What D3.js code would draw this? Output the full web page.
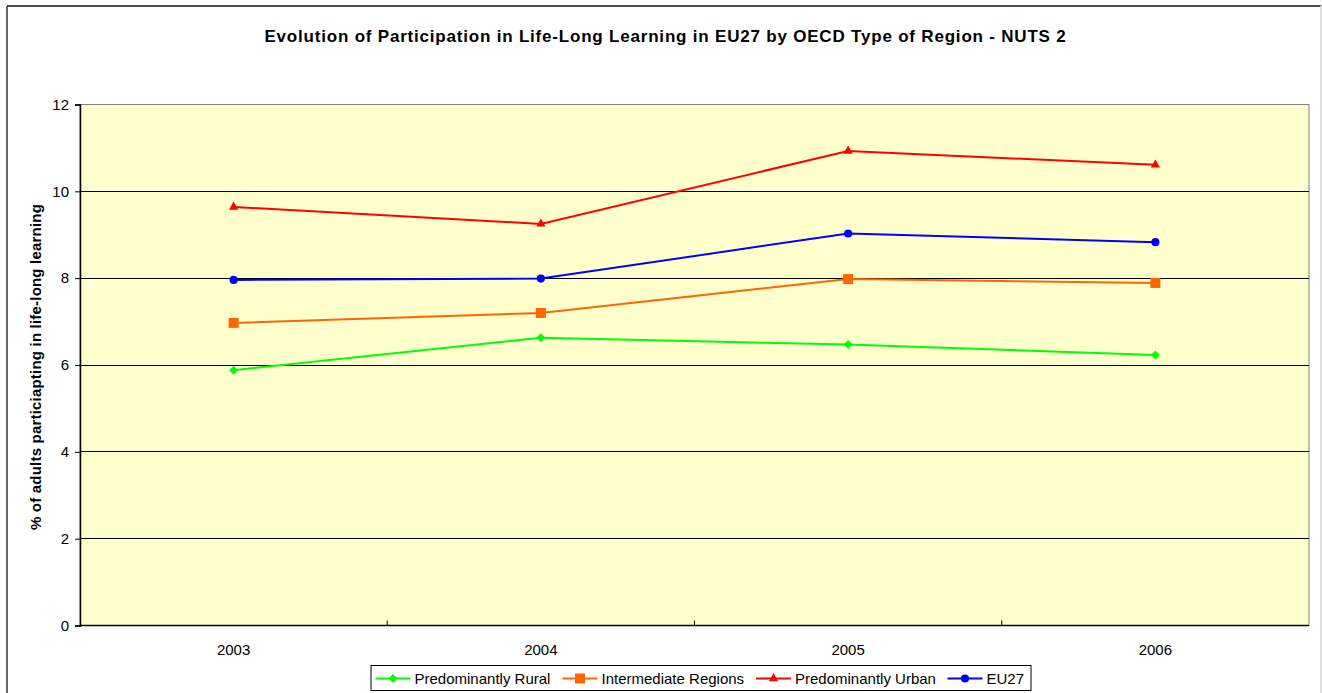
<!DOCTYPE html>
<html>
<head>
<meta charset="utf-8">
<script src="https://cdn.jsdelivr.net/npm/d3@7"></script>
<style>
  body { margin: 0; background: #fff; }
  svg { display: block; font-family: "Liberation Sans", Arial, sans-serif; }
</style>
</head>
<body>
<svg id="chart"></svg>
<script>
// data
const years = ['2003', '2004', '2005', '2006'];
const rural = [5.88, 6.63, 6.47, 6.23];
const intermediate = [6.97, 7.2, 7.98, 7.89];
const urban = [9.64, 9.25, 10.93, 10.61];
const eu27 = [7.96, 7.99, 9.03, 8.83];
const yTicks = [0, 2, 4, 6, 8, 10, 12];

const series = [
  {name: 'Predominantly Rural', values: rural, color: '#00ff00', symbol: 'diamond'},
  {name: 'Intermediate Regions', values: intermediate, color: '#ff6600', symbol: 'square'},
  {name: 'Predominantly Urban', values: urban, color: '#ff0000', symbol: 'triangle'},
  {name: 'EU27', values: eu27, color: '#0000ff', symbol: 'circle'}
];

const W = 1322, H = 693;
const margin = {top: 104.5, right: 13, bottom: 67.5, left: 80};
const width = W - margin.left - margin.right;
const height = H - margin.top - margin.bottom;

const svg = d3.select('#chart').attr('width', W).attr('height', H);

// outer frame
svg.append('line').attr('x1', 7).attr('y1', 6).attr('x2', 1321).attr('y2', 6)
    .attr('stroke', '#111').attr('stroke-width', 1.5);
svg.append('line').attr('x1', 7).attr('y1', 6).attr('x2', 7).attr('y2', H)
    .attr('stroke', '#333').attr('stroke-width', 1.5);
svg.append('line').attr('x1', 1321).attr('y1', 6).attr('x2', 1321).attr('y2', H)
    .attr('stroke', '#ddd').attr('stroke-width', 2);

svg.append('text')
    .attr('x', 665.5).attr('y', 42)
    .attr('text-anchor', 'middle')
    .style('font-size', '17px').style('font-weight', 'bold')
    .style('letter-spacing', '0.8px')
    .text('Evolution of Participation in Life-Long Learning in EU27 by OECD Type of Region - NUTS 2');

const chart = svg.append('g').attr('transform', `translate(${margin.left},${margin.top})`);

const xScale = d3.scaleBand().domain(years).range([0, width]);
const yScale = d3.scaleLinear().domain([0, 12]).range([height, 0]);

chart.append('rect')
    .attr('width', width).attr('height', height)
    .attr('fill', '#ffffcc').attr('stroke', '#808080').attr('stroke-width', 1);

// gridlines
chart.append('g')
    .selectAll('line')
    .data(yTicks.filter(d => d > 0 && d < 12))
    .join('line')
    .attr('x1', 0).attr('x2', width)
    .attr('y1', d => yScale(d)).attr('y2', d => yScale(d))
    .attr('stroke', '#000').attr('stroke-width', 1)
    .attr('shape-rendering', 'crispEdges');

// y axis
const yAxisG = chart.append('g')
    .call(d3.axisLeft(yScale).tickValues(yTicks).tickSize(5).tickPadding(6));
yAxisG.selectAll('text').style('font-size', '15px').attr('fill', '#000');
yAxisG.select('.domain').attr('stroke', '#000').attr('stroke-width', 1.5);

// x axis: tick marks at category boundaries
const xAxisG = chart.append('g').attr('transform', `translate(0,${height})`);
xAxisG.append('line').attr('x1', 0).attr('x2', width)
    .attr('stroke', '#000').attr('stroke-width', 1.5);
xAxisG.selectAll('.xtick')
    .data(years.slice(1))
    .join('line')
    .attr('class', 'xtick')
    .attr('x1', d => xScale(d)).attr('x2', d => xScale(d))
    .attr('y1', 0).attr('y2', -5)
    .attr('stroke', '#000');
xAxisG.selectAll('.xlabel')
    .data(years)
    .join('text')
    .attr('class', 'xlabel')
    .attr('x', d => xScale(d) + xScale.bandwidth() / 2)
    .attr('y', 29)
    .attr('text-anchor', 'middle')
    .style('font-size', '15px')
    .text(d => d);

// y axis title
svg.append('text')
    .attr('transform', 'translate(41,367) rotate(-90)')
    .attr('text-anchor', 'middle')
    .style('font-size', '15px').style('font-weight', 'bold')
    .style('letter-spacing', '0.2px')
    .text('% of adults particiapting in life-long learning');

const symbolType = {
  diamond: d3.symbolDiamond2,
  square: d3.symbolSquare,
  triangle: d3.symbolTriangle,
  circle: d3.symbolCircle
};
const symbolSize = {diamond: 52, square: 100, triangle: 38, circle: 52};

const line = d3.line()
    .x((d, i) => xScale(years[i]) + xScale.bandwidth() / 2)
    .y(d => yScale(d));

series.forEach(s => {
  chart.append('path')
      .datum(s.values)
      .attr('d', line)
      .attr('fill', 'none')
      .attr('stroke', s.color)
      .attr('stroke-width', 2);
  chart.selectAll(null)
      .data(s.values)
      .join('path')
      .attr('transform', (d, i) => `translate(${xScale(years[i]) + xScale.bandwidth() / 2},${yScale(d)})`)
      .attr('d', d3.symbol().type(symbolType[s.symbol]).size(symbolSize[s.symbol])())
      .attr('fill', s.color);
});

// legend
const legend = svg.append('g').attr('transform', 'translate(371,665.5)');
legend.append('rect')
    .attr('width', 660).attr('height', 25)
    .attr('fill', '#fff').attr('stroke', '#000').attr('stroke-width', 1);
const legendPos = [4.5, 191.5, 385, 576.5];
series.forEach((s, i) => {
  const g = legend.append('g').attr('transform', `translate(${legendPos[i]},13)`);
  g.append('line').attr('x1', 0).attr('x2', 35)
      .attr('stroke', s.color).attr('stroke-width', 2);
  g.append('path')
      .attr('transform', 'translate(17.5,0)')
      .attr('d', d3.symbol().type(symbolType[s.symbol]).size(symbolSize[s.symbol])())
      .attr('fill', s.color);
  g.append('text')
      .attr('x', 39).attr('y', 5.5)
      .style('font-size', '15px')
      .text(s.name);
});
</script>
</body>
</html>
